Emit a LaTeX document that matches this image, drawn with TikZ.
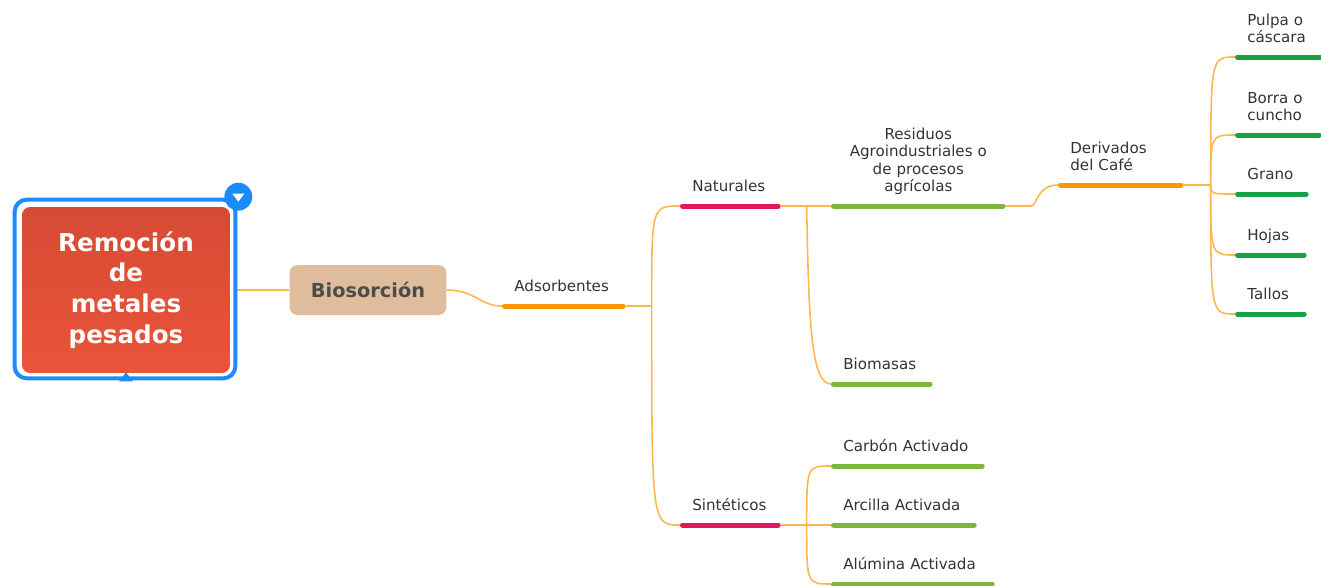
\documentclass[tikz,border=0pt]{standalone}
\usepackage{fontspec}
\setmainfont{DejaVu Sans}
\definecolor{rootred}{RGB}{234,84,58}
\definecolor{rootdark}{RGB}{214,74,52}
\definecolor{selblue}{RGB}{26,140,255}
\definecolor{biotan}{RGB}{223,189,156}
\definecolor{linkor}{RGB}{255,183,77}
\definecolor{ulorange}{RGB}{255,152,0}
\definecolor{ulred}{RGB}{225,22,92}
\definecolor{ullime}{RGB}{124,184,62}
\definecolor{ulgreen}{RGB}{24,160,72}
\definecolor{txt}{RGB}{51,51,51}
\hyphenpenalty=10000
\exhyphenpenalty=10000

\begin{document}
\begin{tikzpicture}[x=0.02cm, y=-0.02cm,
    link/.style={linkor, line width=0.9pt},
    ul/.style={line width=0.1cm, line cap=round, shorten <=0.05cm, shorten >=0.05cm, #1},
    topic/.style={anchor=south west, inner xsep=0.24cm, inner ysep=0.17cm, align=left,
        text=txt, font=\fontsize{8.6}{10}\selectfont, execute at end node=\strut},
    root/.style={rectangle, rounded corners=0.16cm, top color=rootdark, bottom color=rootred,
        minimum width=4.16cm, minimum height=3.32cm, align=center, text=white,
        font=\bfseries\fontsize{14}{17.4}\selectfont},
    bio/.style={rectangle, rounded corners=0.16cm, fill=biotan, minimum width=3.14cm,
        minimum height=1cm, text=black!70, font=\bfseries\fontsize{11}{13}\selectfont}]
    \useasboundingbox (0,0) rectangle (1321,585);

    % Wurzel
    \node[root] (root) at (126,290) {Remoción\\de\\metales\\pesados};
    \node[bio] (bios) at (368,290) {Biosorción};

    % Themen
    \node[topic, text width=1.98cm] (ads) at (502,306) {Adsorbentes};
    \node[topic, text width=1.52cm] (nat) at (680,206) {Naturales};
    \node[topic, text width=1.52cm] (sin) at (680,525) {Sintéticos};
    \node[topic, text width=3.0cm, align=center] (res) at (831,206) {Residuos\\Agroindustriales o\\de procesos\\agrícolas};
    \node[topic, text width=1.54cm] (bms) at (831,384) {Biomasas};
    \node[topic, text width=2.02cm] (der) at (1058,185) {Derivados\\del Café};
    \node[topic, text width=1.32cm] (pul) at (1235,57) {Pulpa o\\cáscara};
    \node[topic, text width=1.24cm] (bor) at (1235,135) {Borra o\\cuncho};
    \node[topic, text width=0.98cm] (gra) at (1235,194) {Grano};
    \node[topic, text width=0.94cm] (hoj) at (1235,255) {Hojas};
    \node[topic, text width=0.94cm] (tal) at (1235,314) {Tallos};
    \node[topic, text width=2.58cm] (car) at (831,466) {Carbón Activado};
    \node[topic, text width=2.42cm] (arc) at (831,525) {Arcilla Activada};
    \node[topic, text width=2.78cm] (alu) at (831,584) {Alúmina Activada};

    % Verzweigungen
    \coordinate (j1) at ([shift={(26,0)}]ads.south east);
    \coordinate (j2) at ([shift={(26,0)}]nat.south east);
    \coordinate (j3) at ([shift={(27,0)}]der.south east);
    \coordinate (j4) at ([shift={(26,0)}]sin.south east);

    % Verbindungen
    \draw[link] ([shift={(7,0)}]root.east) -- (bios.west);
    \draw[link] (bios.east) .. controls +(28,0) and +(-22,0) .. (ads.south west);
    \draw[link] (ads.south east) -- (j1);
    \foreach \n in {nat,sin}
        \draw[link] (j1) .. controls (j1 |- \n.south west) .. (\n.south west);
    \draw[link] (nat.south east) -- (res.south west);
    \draw[link] (j2) .. controls +(2,124) and +(-19,0) .. (bms.south west);
    \draw[link] (res.south east) -- ++(25,0) .. controls +(7,0) and +(-22,0) .. (der.south west);
    \draw[link] (der.south east) -- (j3);
    \foreach \n in {pul,bor,gra,hoj,tal}
        \draw[link] (j3) .. controls (j3 |- \n.south west) .. (\n.south west);
    \draw[link] (sin.south east) -- (j4);
    \foreach \n in {car,arc,alu}
        \draw[link] (j4) .. controls (j4 |- \n.south west) .. (\n.south west);

    % Unterstriche
    \foreach \n/\c in {ads/ulorange, der/ulorange, nat/ulred, sin/ulred,
        res/ullime, bms/ullime, car/ullime, arc/ullime, alu/ullime,
        pul/ulgreen, bor/ulgreen, gra/ulgreen, hoj/ulgreen, tal/ulgreen}
        \draw[ul=\c] (\n.south west) -- (\n.south east);

    % Auswahlrahmen
    \draw[selblue, line width=0.08cm, rounded corners=0.24cm]
        ([shift={(-7,-7)}]root.north west) rectangle ([shift={(5,5)}]root.south east);
    \node[circle, fill=selblue, minimum size=0.56cm, inner sep=0pt] (fold) at ([shift={(8,-10)}]root.north east) {};
    \fill[white] ([shift={(-6,-3)}]fold.center) -- ([shift={(6,-3)}]fold.center) -- ([shift={(0,5)}]fold.center) -- cycle;
    \fill[selblue] ([shift={(-7,8)}]root.south) -- ([shift={(7,8)}]root.south) -- ([shift={(0,-1)}]root.south) -- cycle;
\end{tikzpicture}
\end{document}
